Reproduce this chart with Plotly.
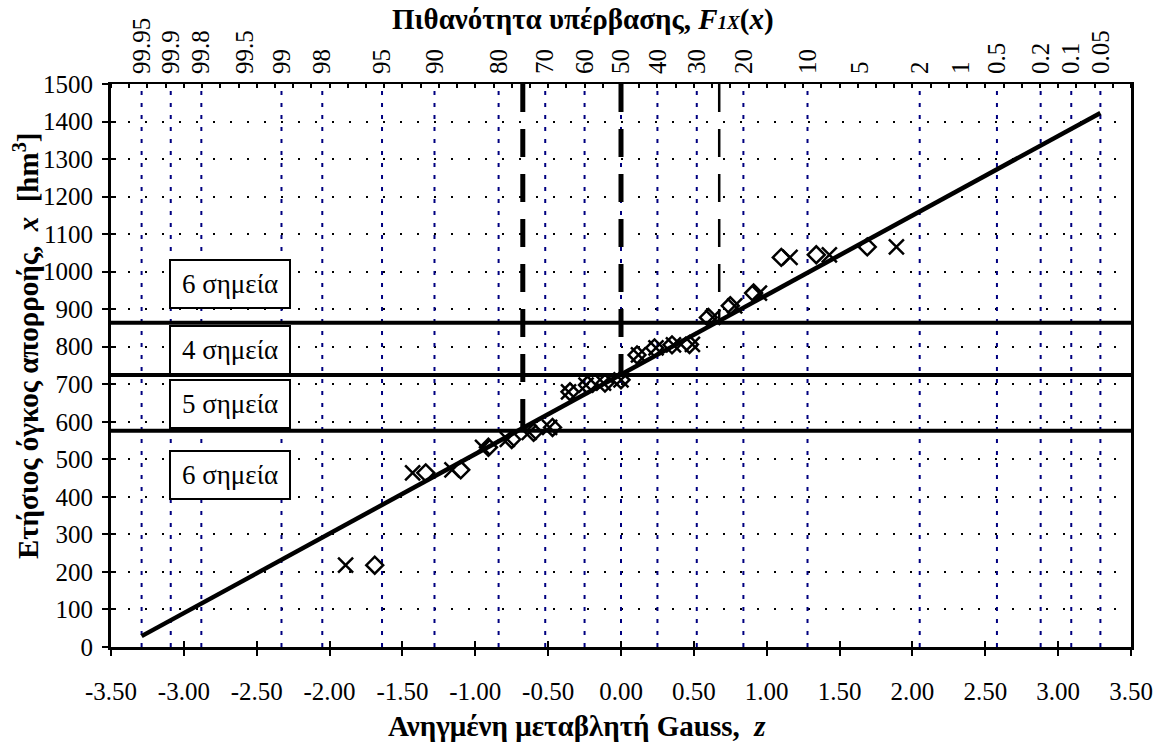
import plotly.graph_objects as go

# ---------------- data ----------------
values_sorted = [218, 464, 472, 532, 553, 572, 585, 680, 698, 703, 712,
                 778, 797, 805, 806, 878, 909, 943, 1038, 1045, 1066]
z_weibull = [-1.69, -1.34, -1.10, -0.91, -0.75, -0.60, -0.47, -0.35, -0.23, -0.11, 0.00,
             0.11, 0.23, 0.35, 0.47, 0.60, 0.75, 0.91, 1.10, 1.34, 1.69]
z_blom = [-1.89, -1.43, -1.16, -0.95, -0.78, -0.63, -0.49, -0.36, -0.24, -0.12, 0.00,
          0.12, 0.24, 0.36, 0.49, 0.63, 0.78, 0.95, 1.16, 1.43, 1.89]

fit_z = [-3.29, 3.29]
fit_x = [29, 1423]

class_bounds = [576, 725, 864]
class_bound_z = [-0.674, 0.0, 0.674]

box_labels = ["6 σημεία", "4 σημεία", "5 σημεία", "6 σημεία"]
box_values = [967, 791, 647, 458]

prob_labels = ["99.95", "99.9", "99.8", "99.5", "99", "98", "95", "90", "80", "70", "60", "50",
               "40", "30", "20", "10", "5", "2", "1", "0.5", "0.2", "0.1", "0.05"]
prob_z = [-3.29, -3.09, -2.88, -2.58, -2.33, -2.05, -1.64, -1.28, -0.84, -0.52, -0.25, 0.00,
          0.25, 0.52, 0.84, 1.28, 1.64, 2.05, 2.33, 2.58, 2.88, 3.09, 3.29]
prob_grid_labels = ["99.95", "99.9", "99.8", "99", "98", "95", "90", "80", "70", "60", "50",
                    "40", "30", "20", "10", "2", "0.5", "0.2", "0.1", "0.05"]

x_ticks = [-3.5, -3.0, -2.5, -2.0, -1.5, -1.0, -0.5, 0.0, 0.5, 1.0, 1.5, 2.0, 2.5, 3.0, 3.5]
x_tick_text = ["-3.50", "-3.00", "-2.50", "-2.00", "-1.50", "-1.00", "-0.50", "0.00",
               "0.50", "1.00", "1.50", "2.00", "2.50", "3.00", "3.50"]
y_ticks = list(range(0, 1501, 100))

Z_RANGE = [-3.5, 3.5]
X_RANGE = [0, 1500]
FONT = "Liberation Serif"

fig = go.Figure()

# blue probability grid lines
gx, gy = [], []
for lab in prob_grid_labels:
    z = prob_z[prob_labels.index(lab)]
    gx += [z, z, None]
    gy += [X_RANGE[0], X_RANGE[1], None]
fig.add_trace(go.Scatter(x=gx, y=gy, mode="lines", hoverinfo="skip", showlegend=False,
                         line=dict(color="#000080", width=2, dash="4px,8px")))

# vertical dashed lines to the class bounds
for i, (z, v) in enumerate(zip(class_bound_z, class_bounds)):
    fig.add_trace(go.Scatter(x=[z, z], y=[X_RANGE[1], v], mode="lines", showlegend=False,
                             line=dict(color="black", width=5 if i < 2 else 2.5, dash="28px,17px")))

# horizontal class bound lines
for v in class_bounds:
    fig.add_trace(go.Scatter(x=Z_RANGE, y=[v, v], mode="lines", showlegend=False,
                             line=dict(color="black", width=4)))

# fitted normal line
fig.add_trace(go.Scatter(x=fit_z, y=fit_x, mode="lines", showlegend=False,
                         line=dict(color="black", width=4.5)))

# data points
fig.add_trace(go.Scatter(x=z_blom, y=values_sorted, mode="markers", showlegend=False,
                         marker=dict(symbol="x-thin-open", size=15, color="black",
                                     line=dict(color="black", width=2.5))))
fig.add_trace(go.Scatter(x=z_weibull, y=values_sorted, mode="markers", showlegend=False,
                         marker=dict(symbol="diamond-open", size=13, color="black",
                                     line=dict(color="black", width=2.5))))

# dummy traces for overlay axes
fig.add_trace(go.Scatter(x=[0], y=[0], xaxis="x2", yaxis="y2", mode="markers",
                         marker=dict(opacity=0), hoverinfo="skip", showlegend=False))
fig.add_trace(go.Scatter(x=[0], y=[0], xaxis="x3", yaxis="y2", mode="markers",
                         marker=dict(opacity=0), hoverinfo="skip", showlegend=False))

# text boxes
for lab, v in zip(box_labels, box_values):
    fig.add_annotation(x=-2.685, y=v, xref="x", yref="y", text=lab, showarrow=False,
                       font=dict(family=FONT, size=27, color="black"),
                       bgcolor="white", bordercolor="black", borderwidth=2,
                       width=114, height=42, borderpad=2)

# titles
fig.add_annotation(x=0.463, y=1.114, xref="paper", yref="paper", showarrow=False,
                   xanchor="center", yanchor="middle",
                   text="<b>Πιθανότητα υπέρβασης, <i>F</i><i><span style='font-size:19px'>1X</span></i>(<i>x</i>)</b>",
                   font=dict(family=FONT, size=29, color="black"))
fig.add_annotation(x=0.457, y=-0.140, xref="paper", yref="paper", showarrow=False,
                   xanchor="center", yanchor="middle",
                   text="<b>Ανηγμένη μεταβλητή Gauss,&nbsp; <i>z</i></b>",
                   font=dict(family=FONT, size=29, color="black"))
fig.add_annotation(x=-0.084, y=0.535, xref="paper", yref="paper", showarrow=False,
                   xanchor="center", yanchor="middle", textangle=-90,
                   text="<b>Ετήσιος όγκος απορροής,&nbsp; <i>x</i>&nbsp; [hm<sup>3</sup>]</b>",
                   font=dict(family=FONT, size=29, color="black"))

fig.update_layout(
    width=1165, height=749,
    margin=dict(l=111, r=32, t=84, b=102),
    paper_bgcolor="white", plot_bgcolor="white",
    font=dict(family=FONT, color="black"),
    xaxis=dict(range=Z_RANGE, tickmode="array", tickvals=x_ticks, ticktext=x_tick_text,
               ticks="outside", ticklen=6, tickwidth=2, tickcolor="black",
               showline=True, linewidth=3, linecolor="black",
               showgrid=False, zeroline=False, tickfont=dict(family=FONT, size=25),
               ticklabelstandoff=14),
    yaxis=dict(range=X_RANGE, tickmode="array", tickvals=y_ticks,
               ticks="outside", ticklen=6, tickwidth=2, tickcolor="black",
               showline=True, linewidth=3, linecolor="black", mirror=True,
               showgrid=True, gridcolor="black", gridwidth=2, griddash="2px,15px",
               zeroline=False, tickfont=dict(family=FONT, size=25), ticklabelstandoff=4),
    xaxis2=dict(overlaying="x", side="top", anchor="y", range=Z_RANGE,
                tickmode="array", tickvals=prob_z, ticktext=prob_labels, tickangle=-90,
                ticks="", showline=True, linewidth=2, linecolor="black",
                showgrid=False, zeroline=False, tickfont=dict(family=FONT, size=25),
                ticklabelstandoff=3,
                minor=dict(tickmode="linear", tick0=0, dtick=0.125, ticks="inside",
                           ticklen=4, tickwidth=1.5, tickcolor="black", showgrid=False)),
    xaxis3=dict(overlaying="x", side="bottom", anchor="y", range=Z_RANGE,
                tickmode="array", tickvals=x_ticks, ticks="inside", ticklen=6,
                tickwidth=2, tickcolor="black", showticklabels=False,
                showline=False, showgrid=False, zeroline=False),
    yaxis2=dict(overlaying="y", side="left", anchor="x", range=X_RANGE,
                tickmode="array", tickvals=y_ticks, ticks="inside", ticklen=5,
                tickwidth=2, tickcolor="black", showticklabels=False,
                showline=False, showgrid=False, zeroline=False),
)

fig.write_html("out.html")
